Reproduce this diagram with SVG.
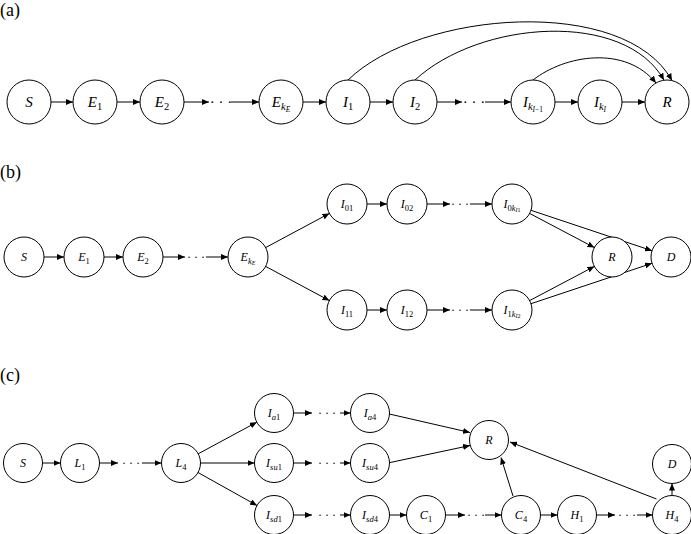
<svg xmlns="http://www.w3.org/2000/svg" width="691" height="534" viewBox="0 0 691 534">
<style>
.n circle{fill:#fff;stroke:#000;stroke-width:1}
.e{stroke:#000;stroke-width:1;fill:none;marker-end:url(#ah)}
.m{font-family:'Liberation Serif','DejaVu Serif',serif;font-style:italic;text-anchor:middle;fill:#000}
.fa{font-size:15px}.fb{font-size:12px}
.sa{font-size:10.5px}.ssa{font-size:7.5px}
.sb{font-size:8.5px}.ssb{font-size:6px}
.u{font-style:normal}
.d{font-family:'Liberation Serif','DejaVu Serif',serif;text-anchor:middle;fill:#000}
.pl{font-family:'Liberation Serif','DejaVu Serif',serif;font-size:18px;fill:#000}
</style>
<defs>
<marker id="ah" markerUnits="userSpaceOnUse" markerWidth="8" markerHeight="6" refX="7" refY="3" orient="auto"><path d="M0,0 L7,3 L0,6 z" fill="#000"/></marker>
</defs>
<rect width="691" height="534" fill="#fff"/>
<g id="panel-labels">
<text class="pl" x="0" y="16">(a)</text>
<text class="pl" x="0" y="177.5">(b)</text>
<text class="pl" x="0" y="381">(c)</text>
</g>

<g id="connectors">
<!-- (a) -->
<path class="e" d="M51,102 H73"/>
<path class="e" d="M117,102 H140"/>
<path class="e" d="M184,102 H209"/>
<path class="e" d="M231,102 H259"/>
<path class="e" d="M303,102 H326"/>
<path class="e" d="M370,102 H393"/>
<path class="e" d="M437,102 H462"/>
<path class="e" d="M485,102 H511"/>
<path class="e" d="M555,102 H578"/>
<path class="e" d="M622,102 H645"/>
<path class="e" d="M348,80 C420,10 625,-5 672,80.6"/>
<path class="e" d="M415,80 C480,20 625,10 664,80.2"/>
<path class="e" d="M533,80 C565,55 625,45 656,83"/>
<!-- (b) -->
<path class="e" d="M44,257 H64"/>
<path class="e" d="M104,257 H123"/>
<path class="e" d="M163,257 H185"/>
<path class="e" d="M206,257 H228"/>
<path class="e" d="M265.6,247.6 L329.4,213.4"/>
<path class="e" d="M265.6,266.4 L329.4,300.6"/>
<path class="e" d="M367,204 H387"/>
<path class="e" d="M427,204 H450"/>
<path class="e" d="M470,204 H492"/>
<path class="e" d="M367,310 H387"/>
<path class="e" d="M427,310 H450"/>
<path class="e" d="M470,310 H492"/>
<path class="e" d="M529.6,213.4 L594.4,247.6"/>
<path class="e" d="M531,210.3 L652,250.7"/>
<path class="e" d="M529.6,300.6 L594.4,266.4"/>
<path class="e" d="M531,303.7 L652,263.3"/>
<!-- (c) -->
<path class="e" d="M42.5,463 H60.5"/>
<path class="e" d="M99.5,463 H118"/>
<path class="e" d="M142,463 H161.5"/>
<path class="e" d="M198.2,453.8 L256.8,422.2"/>
<path class="e" d="M200.5,463 H254.5"/>
<path class="e" d="M198,472.5 L257,505.5"/>
<path class="e" d="M293.5,413 H312"/>
<path class="e" d="M340,413 H350.5"/>
<path class="e" d="M293.5,463 H312"/>
<path class="e" d="M340,463 H350.5"/>
<path class="e" d="M293.5,515 H312"/>
<path class="e" d="M340,515 H350.5"/>
<path class="e" d="M389.3,414 L470,432.5"/>
<path class="e" d="M389.3,462.7 L470,445.5"/>
<path class="e" d="M389.5,515 H406.5"/>
<path class="e" d="M445.5,515 H465"/>
<path class="e" d="M485,515 H501.5"/>
<path class="e" d="M513,496 L501,457.5"/>
<path class="e" d="M540.5,515 H557.5"/>
<path class="e" d="M596.5,515 H615"/>
<path class="e" d="M637,515 H652.5"/>
<path class="e" d="M656.5,499 L510,442"/>
<path class="e" d="M672,495.5 V483.5"/>
</g>

<!-- (a) nodes -->
<g id="a-S" class="n"><circle cx="29" cy="102" r="22"/><text class="m fa" x="29" y="107">S</text></g>
<g id="a-E1" class="n"><circle cx="95" cy="102" r="22"/><text class="m fa" x="95" y="107">E<tspan class="sa u" dy="3">1</tspan></text></g>
<g id="a-E2" class="n"><circle cx="162" cy="102" r="22"/><text class="m fa" x="162" y="107">E<tspan class="sa u" dy="3">2</tspan></text></g>
<g id="a-dots1"><text class="d fa" x="221" y="106.5">· · ·</text></g>
<g id="a-EkE" class="n"><circle cx="281" cy="102" r="22"/><text class="m fa" x="281" y="107">E<tspan class="sa" dy="3">k</tspan><tspan class="ssa" dy="2">E</tspan></text></g>
<g id="a-I1" class="n"><circle cx="348" cy="102" r="22"/><text class="m fa" x="348" y="107">I<tspan class="sa u" dy="3">1</tspan></text></g>
<g id="a-I2" class="n"><circle cx="415" cy="102" r="22"/><text class="m fa" x="415" y="107">I<tspan class="sa u" dy="3">2</tspan></text></g>
<g id="a-dots2"><text class="d fa" x="474" y="106.5">· · ·</text></g>
<g id="a-IkI-1" class="n"><circle cx="533" cy="102" r="22"/><text class="m fa" x="533" y="107">I<tspan class="sa" dy="3">k</tspan><tspan class="ssa" dy="2">I</tspan><tspan class="ssa u">−1</tspan></text></g>
<g id="a-IkI" class="n"><circle cx="600" cy="102" r="22"/><text class="m fa" x="600" y="107">I<tspan class="sa" dy="3">k</tspan><tspan class="ssa" dy="2">I</tspan></text></g>
<g id="a-R" class="n"><circle cx="667" cy="102" r="22"/><text class="m fa" x="667" y="107">R</text></g>

<!-- (b) nodes -->
<g id="b-S" class="n"><circle cx="24" cy="257" r="20"/><text class="m fb" x="24" y="261">S</text></g>
<g id="b-E1" class="n"><circle cx="84" cy="257" r="20"/><text class="m fb" x="84" y="261">E<tspan class="sb u" dy="2.5">1</tspan></text></g>
<g id="b-E2" class="n"><circle cx="143" cy="257" r="20"/><text class="m fb" x="143" y="261">E<tspan class="sb u" dy="2.5">2</tspan></text></g>
<g id="b-dots1"><text class="d fb" x="196" y="260.5">· · ·</text></g>
<g id="b-EkE" class="n"><circle cx="248" cy="257" r="20"/><text class="m fb" x="248" y="261">E<tspan class="sb" dy="2.5">k</tspan><tspan class="ssb" dy="1.5">E</tspan></text></g>
<g id="b-I01" class="n"><circle cx="347" cy="204" r="20"/><text class="m fb" x="347" y="208">I<tspan class="sb u" dy="2.5">01</tspan></text></g>
<g id="b-I02" class="n"><circle cx="407" cy="204" r="20"/><text class="m fb" x="407" y="208">I<tspan class="sb u" dy="2.5">02</tspan></text></g>
<g id="b-dots2"><text class="d fb" x="460" y="207.5">· · ·</text></g>
<g id="b-I0k" class="n"><circle cx="512" cy="204" r="20"/><text class="m fb" x="512" y="208">I<tspan class="sb u" dy="2.5">0</tspan><tspan class="sb">k</tspan><tspan class="ssb" dy="1.5">I</tspan><tspan class="ssb u">1</tspan></text></g>
<g id="b-I11" class="n"><circle cx="347" cy="310" r="20"/><text class="m fb" x="347" y="314">I<tspan class="sb u" dy="2.5">11</tspan></text></g>
<g id="b-I12" class="n"><circle cx="407" cy="310" r="20"/><text class="m fb" x="407" y="314">I<tspan class="sb u" dy="2.5">12</tspan></text></g>
<g id="b-dots3"><text class="d fb" x="460" y="313.5">· · ·</text></g>
<g id="b-I1k" class="n"><circle cx="512" cy="310" r="20"/><text class="m fb" x="512" y="314">I<tspan class="sb u" dy="2.5">1</tspan><tspan class="sb">k</tspan><tspan class="ssb" dy="1.5">I</tspan><tspan class="ssb u">2</tspan></text></g>
<g id="b-R" class="n"><circle cx="612" cy="257" r="20"/><text class="m fb" x="612" y="261">R</text></g>
<g id="b-D" class="n"><circle cx="671" cy="257" r="20"/><text class="m fb" x="671" y="261">D</text></g>

<!-- (c) nodes -->
<g id="c-S" class="n"><circle cx="23" cy="463" r="19.5"/><text class="m fb" x="23" y="467">S</text></g>
<g id="c-L1" class="n"><circle cx="80" cy="463" r="19.5"/><text class="m fb" x="80" y="467">L<tspan class="sb u" dy="2.5">1</tspan></text></g>
<g id="c-dots1"><text class="d fb" x="131" y="466.5">· · ·</text></g>
<g id="c-L4" class="n"><circle cx="181" cy="463" r="19.5"/><text class="m fb" x="181" y="467">L<tspan class="sb u" dy="2.5">4</tspan></text></g>
<g id="c-Ia1" class="n"><circle cx="274" cy="413" r="19.5"/><text class="m fb" x="274" y="417">I<tspan class="sb" dy="2.5">a</tspan><tspan class="sb u">1</tspan></text></g>
<g id="c-Isu1" class="n"><circle cx="274" cy="463" r="19.5"/><text class="m fb" x="274" y="467">I<tspan class="sb" dy="2.5">su</tspan><tspan class="sb u">1</tspan></text></g>
<g id="c-Isd1" class="n"><circle cx="274" cy="515" r="19.5"/><text class="m fb" x="274" y="519">I<tspan class="sb" dy="2.5">sd</tspan><tspan class="sb u">1</tspan></text></g>
<g id="c-dots2"><text class="d fb" x="327" y="416.5">· · ·</text></g>
<g id="c-dots3"><text class="d fb" x="327" y="466.5">· · ·</text></g>
<g id="c-dots4"><text class="d fb" x="327" y="518.5">· · ·</text></g>
<g id="c-Ia4" class="n"><circle cx="370" cy="413" r="19.5"/><text class="m fb" x="370" y="417">I<tspan class="sb" dy="2.5">a</tspan><tspan class="sb u">4</tspan></text></g>
<g id="c-Isu4" class="n"><circle cx="370" cy="463" r="19.5"/><text class="m fb" x="370" y="467">I<tspan class="sb" dy="2.5">su</tspan><tspan class="sb u">4</tspan></text></g>
<g id="c-Isd4" class="n"><circle cx="370" cy="515" r="19.5"/><text class="m fb" x="370" y="519">I<tspan class="sb" dy="2.5">sd</tspan><tspan class="sb u">4</tspan></text></g>
<g id="c-R" class="n"><circle cx="489" cy="440" r="19.5"/><text class="m fb" x="489" y="444">R</text></g>
<g id="c-C1" class="n"><circle cx="426" cy="515" r="19.5"/><text class="m fb" x="426" y="519">C<tspan class="sb u" dy="2.5">1</tspan></text></g>
<g id="c-dots5"><text class="d fb" x="476" y="518.5">· · ·</text></g>
<g id="c-C4" class="n"><circle cx="521" cy="515" r="19.5"/><text class="m fb" x="521" y="519">C<tspan class="sb u" dy="2.5">4</tspan></text></g>
<g id="c-H1" class="n"><circle cx="577" cy="515" r="19.5"/><text class="m fb" x="577" y="519">H<tspan class="sb u" dy="2.5">1</tspan></text></g>
<g id="c-dots6"><text class="d fb" x="627" y="518.5">· · ·</text></g>
<g id="c-H4" class="n"><circle cx="672" cy="515" r="19.5"/><text class="m fb" x="672" y="519">H<tspan class="sb u" dy="2.5">4</tspan></text></g>
<g id="c-D" class="n"><circle cx="672" cy="464" r="19.5"/><text class="m fb" x="672" y="468">D</text></g>
</svg>
